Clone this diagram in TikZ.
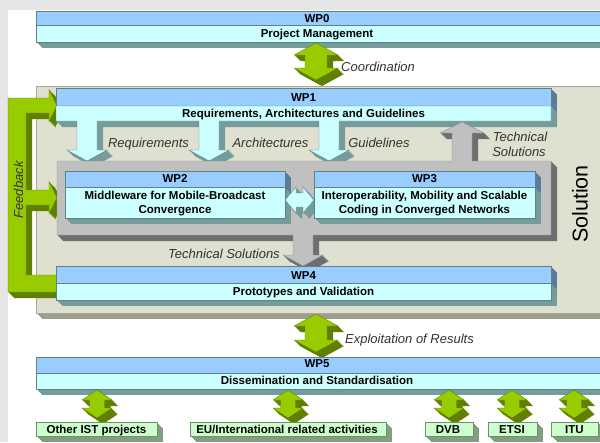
\documentclass[tikz,border=0pt]{standalone}
\usepackage{fontspec}
\setmainfont{Liberation Sans}
\definecolor{bandblue}{HTML}{99CCFF}
\definecolor{bandcyan}{HTML}{CCFFFF}
\definecolor{slate}{HTML}{769B9B}
\definecolor{slateblue}{HTML}{5B7B9C}
\definecolor{bandline}{HTML}{5F8282}
\definecolor{beige}{HTML}{E0E0D0}
\definecolor{beigedark}{HTML}{9E9E8E}
\definecolor{beigeline}{HTML}{A8A898}
\definecolor{graybox}{HTML}{C0C0C0}
\definecolor{graydark}{HTML}{6E6E6E}
\definecolor{grayline}{HTML}{8C8C8C}
\definecolor{lgreen}{HTML}{99CC00}
\definecolor{dgreen}{HTML}{5F7F00}
\definecolor{boxgreen}{HTML}{CCFFCC}
\definecolor{boxgreendark}{HTML}{7F9F7F}
\definecolor{boxgreenline}{HTML}{6F8F6F}
\definecolor{labgray}{HTML}{333333}
\definecolor{bggray}{HTML}{E6E6E6}
\newcommand{\ext}[2]{\foreach \k in {0.5,1,...,6}{\fill[#1,shift={(\k,\k)}] #2;}}
% x1, ytop, ysplit, x2, ybottom
\newcommand{\wpbar}[5]{%
  \ext{slateblue}{(#1,#2) rectangle (#4,#3)}
  \ext{slate}{(#1,#3) rectangle (#4,#5)}
  \fill[bandblue,draw=bandline,line width=.4pt] (#1,#2) rectangle (#4,#3);
  \fill[bandcyan,draw=bandline,line width=.4pt] (#1,#3) rectangle (#4,#5);}
% cx, ytop tip, ybottom tip, head half width, shaft half width, head length
\newcommand{\vdarrowpath}[6]{(#1,#2) -- ({#1+#4},{#2+#6}) -- ({#1+#5},{#2+#6}) -- ({#1+#5},{#3-#6}) -- ({#1+#4},{#3-#6}) -- (#1,#3) -- ({#1-#4},{#3-#6}) -- ({#1-#5},{#3-#6}) -- ({#1-#5},{#2+#6}) -- ({#1-#4},{#2+#6}) -- cycle}
\newcommand{\greenarrow}[6]{%
  \ext{dgreen}{\vdarrowpath{#1}{#2}{#3}{#4}{#5}{#6}}
  \fill[lgreen,draw=dgreen,line width=.3pt] \vdarrowpath{#1}{#2}{#3}{#4}{#5}{#6};}
% x1, y1, x2, y2
\newcommand{\extbox}[4]{%
  \ext{boxgreendark}{(#1,#2) rectangle (#3,#4)}
  \fill[boxgreen,draw=boxgreenline,line width=.4pt] (#1,#2) rectangle (#3,#4);}
\tikzset{
  wpt/.style={font=\bfseries\fontsize{11.5}{14}\selectfont, text=black, inner sep=0pt, anchor=base},
  lab/.style={font=\itshape\fontsize{13}{15}\selectfont, text=labgray, inner sep=0pt, anchor=base},
}
\begin{document}
\begin{tikzpicture}[x=1pt,y=-1pt]
\useasboundingbox (0,0) rectangle (600,442);
\clip (0,0) rectangle (600,442);
% background
\fill[bggray] (0,0) rectangle (600,442);
\fill[white] (8,10) rectangle (600,442);
% solution panel
\ext{beigedark}{(36,86) rectangle (612,313)}
\fill[beige,draw=beigeline,line width=.4pt] (36,86) rectangle (612,313);
% feedback E shape
\ext{dgreen}{(8,98) -- (49,98) -- (49,89.5) -- (57,105.5) -- (49,121.5) -- (49,113) -- (26,113) -- (26,190) -- (49,190) -- (49,181.5) -- (57,197.5) -- (49,213.5) -- (49,205) -- (26,205) -- (26,275) -- (57,275) -- (57,292) -- (8,292) -- cycle}
\fill[lgreen,draw=dgreen,line width=.3pt] (8,98) -- (49,98) -- (49,89.5) -- (57,105.5) -- (49,121.5) -- (49,113) -- (26,113) -- (26,190) -- (49,190) -- (49,181.5) -- (57,197.5) -- (49,213.5) -- (49,205) -- (26,205) -- (26,275) -- (57,275) -- (57,292) -- (8,292) -- cycle;
% WP1 with three down arrows
\ext{slateblue}{(56,88) rectangle (551,106)}
\ext{slate}{(56,106) -- (551,106) -- (551,121) -- (339,121) -- (339,150) -- (349,150) -- (329,161) -- (309,150) -- (319,150) -- (319,121) -- (219,121) -- (219,150) -- (229,150) -- (209,161) -- (189,150) -- (199,150) -- (199,121) -- (97,121) -- (97,150) -- (107,150) -- (87,161) -- (67,150) -- (77,150) -- (77,121) -- (56,121) -- cycle}
\fill[bandblue,draw=bandline,line width=.4pt] (56,88) rectangle (551,106);
\fill[bandcyan,draw=bandline,line width=.4pt] (56,106) -- (551,106) -- (551,121) -- (339,121) -- (339,150) -- (349,150) -- (329,161) -- (309,150) -- (319,150) -- (319,121) -- (219,121) -- (219,150) -- (229,150) -- (209,161) -- (189,150) -- (199,150) -- (199,121) -- (97,121) -- (97,150) -- (107,150) -- (87,161) -- (67,150) -- (77,150) -- (77,121) -- (56,121) -- cycle;
% gray block with up and down arrows
\ext{graydark}{(57,161) -- (452,161) -- (452,133) -- (440,133) -- (462,122) -- (484,133) -- (472,133) -- (472,161) -- (551,161) -- (551,235) -- (313,235) -- (313,255) -- (323,255) -- (303,266) -- (283,255) -- (293,255) -- (293,235) -- (57,235) -- cycle}
\fill[graybox,draw=grayline,line width=.4pt] (57,161) -- (452,161) -- (452,133) -- (440,133) -- (462,122) -- (484,133) -- (472,133) -- (472,161) -- (551,161) -- (551,235) -- (313,235) -- (313,255) -- (323,255) -- (303,266) -- (283,255) -- (293,255) -- (293,235) -- (57,235) -- cycle;
% WP2
\wpbar{65}{171}{187}{285}{218}
% WP2 - WP3 double arrow
\ext{slate}{(285,200) -- (296,187) -- (296,193) -- (303,193) -- (303,187) -- (314,200) -- (303,213) -- (303,207) -- (296,207) -- (296,213) -- cycle}
\fill[bandcyan,draw=bandline,line width=.4pt] (285,200) -- (296,187) -- (296,193) -- (303,193) -- (303,187) -- (314,200) -- (303,213) -- (303,207) -- (296,207) -- (296,213) -- cycle;
% WP3
\wpbar{314}{171}{187}{535}{218}
% WP4
\wpbar{56}{266}{283}{551}{300}
% WP0
\wpbar{36}{11}{25}{612}{42}
% coordination arrow
\greenarrow{316}{43}{80}{22}{11}{12}
% exploitation arrow
\greenarrow{316}{314}{352}{22}{11}{12}
% WP5
\wpbar{36}{357}{373}{612}{389}
% small arrows
\greenarrow{97}{390}{418}{15}{7.5}{10}
\greenarrow{288}{390}{418}{15}{7.5}{10}
\greenarrow{449}{390}{418}{15}{7.5}{10}
\greenarrow{512}{390}{418}{15}{7.5}{10}
\greenarrow{574}{390}{418}{15}{7.5}{10}
% bottom boxes
\extbox{36}{422}{157}{436}
\extbox{190}{422}{386}{436}
\extbox{425}{422}{473}{436}
\extbox{488}{422}{537}{436}
\extbox{551}{422}{598}{436}
% texts
\node[wpt] (wp0a) at (317,22.5) {WP0};
\node[wpt] (wp0b) at (317,37) {Project Management};
\node[wpt] (wp1a) at (303.5,101) {WP1};
\node[wpt] (wp1b) at (303.5,117) {Requirements, Architectures and Guidelines};
\node[wpt] (wp2a) at (175,182.7) {WP2};
\node[wpt] (wp2b) at (175,199) {Middleware for Mobile-Broadcast};
\node[wpt] (wp2c) at (175,213.5) {Convergence};
\node[wpt] (wp3a) at (424.5,182.7) {WP3};
\node[wpt] (wp3b) at (424.5,199) {Interoperability, Mobility and Scalable};
\node[wpt] (wp3c) at (424.5,213.5) {Coding in Converged Networks};
\node[wpt] (wp4a) at (303.5,279.3) {WP4};
\node[wpt] (wp4b) at (303.5,295.7) {Prototypes and Validation};
\node[wpt] (wp5a) at (317,367.5) {WP5};
\node[wpt] (wp5b) at (317,384.5) {Dissemination and Standardisation};
\node[wpt] (b1) at (96.5,433.5) {Other IST projects};
\node[wpt] (b2) at (287,433.5) {EU/International related activities};
\node[wpt] (b3) at (448,433.5) {DVB};
\node[wpt] (b4) at (512,433.5) {ETSI};
\node[wpt] (b5) at (574.5,433.5) {ITU};
\node[lab,anchor=base west] (coord) at (341,71.5) {Coordination};
\node[lab,anchor=base west] (expl) at (345,343) {Exploitation of Results};
\node[lab] (req) at (148.5,147) {Requirements};
\node[lab] (arch) at (270.5,147) {Architectures};
\node[lab] (guide) at (379,147) {Guidelines};
\node[lab] (tech1) at (520,141.7) {Technical};
\node[lab] (tech2) at (519,156.7) {Solutions};
\node[lab] (tech3) at (224,258) {Technical Solutions};
\node[font=\itshape\fontsize{13}{15}\selectfont, text=labgray, inner sep=0pt, rotate=90] (fb) at (18.5,190) {Feedback};
\node[font=\fontsize{21.5}{24}\selectfont, text=black, inner sep=0pt, rotate=90] (sol) at (580,204) {Solution};
\end{tikzpicture}
\end{document}
